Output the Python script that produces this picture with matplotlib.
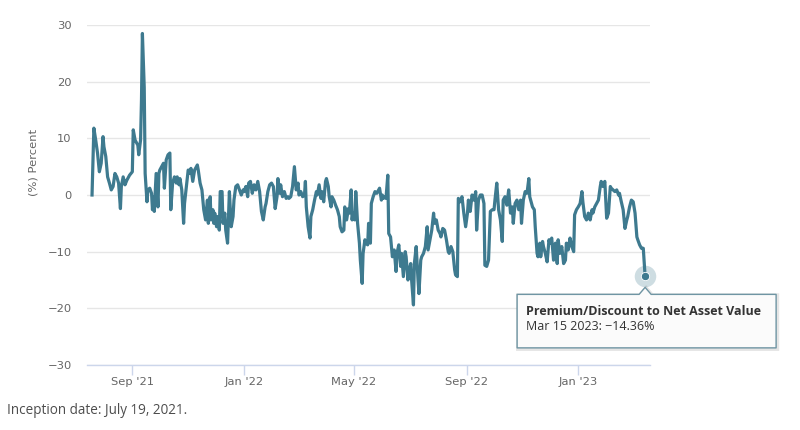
import matplotlib
matplotlib.use("Agg")
import matplotlib.pyplot as plt
import matplotlib.dates as mdates
import pandas as pd
from matplotlib.patches import Polygon
from matplotlib.transforms import IdentityTransform

# premium / discount to NAV (%)
dates = [
    "2021-07-19", "2021-07-21", "2021-07-23", "2021-07-25", "2021-07-27", "2021-07-29", "2021-07-31",
    "2021-08-01", "2021-08-03", "2021-08-05", "2021-08-07", "2021-08-09", "2021-08-11", "2021-08-13",
    "2021-08-15", "2021-08-17", "2021-08-19", "2021-08-20", "2021-08-22", "2021-08-24", "2021-08-26",
    "2021-08-29", "2021-09-01", "2021-09-02", "2021-09-04", "2021-09-07", "2021-09-08", "2021-09-10",
    "2021-09-11", "2021-09-12", "2021-09-14", "2021-09-15", "2021-09-17", "2021-09-18", "2021-09-20",
    "2021-09-22", "2021-09-23", "2021-09-24", "2021-09-25", "2021-09-27", "2021-09-29", "2021-09-30",
    "2021-10-01", "2021-10-03", "2021-10-05", "2021-10-06", "2021-10-08", "2021-10-10", "2021-10-12",
    "2021-10-13", "2021-10-15", "2021-10-17", "2021-10-19", "2021-10-20", "2021-10-22",
    "2021-10-23", "2021-10-25", "2021-10-27", "2021-10-28", "2021-10-30", "2021-11-01", "2021-11-03",
    "2021-11-04", "2021-11-06", "2021-11-08", "2021-11-11", "2021-11-12", "2021-11-14", "2021-11-16",
    "2021-11-18", "2021-11-20", "2021-11-22", "2021-11-23", "2021-11-25", "2021-11-26", "2021-11-28",
    "2021-11-29", "2021-11-30", "2021-12-02", "2021-12-03", "2021-12-05", "2021-12-06", "2021-12-08",
    "2021-12-09", "2021-12-11", "2021-12-12", "2021-12-14", "2021-12-16", "2021-12-18", "2021-12-20",
    "2021-12-21", "2021-12-23", "2021-12-25", "2021-12-27", "2021-12-29", "2021-12-31",
    "2022-01-01", "2022-01-03", "2022-01-05", "2022-01-06", "2022-01-08", "2022-01-10", "2022-01-12",
    "2022-01-14", "2022-01-16", "2022-01-18", "2022-01-20", "2022-01-22", "2022-01-24", "2022-01-25",
    "2022-01-27", "2022-01-29", "2022-01-31", "2022-02-02",
    "2022-02-04", "2022-02-06", "2022-02-07", "2022-02-09", "2022-02-10", "2022-02-12", "2022-02-14",
    "2022-02-16", "2022-02-18", "2022-02-19", "2022-02-21", "2022-02-23", "2022-02-25", "2022-02-27",
    "2022-03-01", "2022-03-02", "2022-03-04", "2022-03-06", "2022-03-08", "2022-03-09", "2022-03-10",
    "2022-03-12", "2022-03-14", "2022-03-15", "2022-03-17", "2022-03-19", "2022-03-21", "2022-03-22",
    "2022-03-24", "2022-03-26", "2022-03-27", "2022-03-29", "2022-03-31", "2022-04-01", "2022-04-03",
    "2022-04-04", "2022-04-06", "2022-04-07", "2022-04-09", "2022-04-11", "2022-04-13", "2022-04-15",
    "2022-04-16", "2022-04-18", "2022-04-20", "2022-04-21", "2022-04-23", "2022-04-25", "2022-04-26",
    "2022-04-28", "2022-04-29", "2022-04-30", "2022-05-02", "2022-05-03", "2022-05-05", "2022-05-07",
    "2022-05-08", "2022-05-10", "2022-05-11", "2022-05-13", "2022-05-14",
    "2022-05-16", "2022-05-17", "2022-05-19", "2022-05-20", "2022-05-22", "2022-05-24", "2022-05-26",
    "2022-05-27", "2022-05-29", "2022-05-31", "2022-06-01", "2022-06-02", "2022-06-04", "2022-06-05",
    "2022-06-07", "2022-06-08", "2022-06-10", "2022-06-12", "2022-06-14", "2022-06-16", "2022-06-17",
    "2022-06-19", "2022-06-21", "2022-06-22", "2022-06-24", "2022-06-26", "2022-06-27", "2022-06-29",
    "2022-06-30", "2022-07-02", "2022-07-03", "2022-07-05", "2022-07-06", "2022-07-08", "2022-07-10",
    "2022-07-11", "2022-07-13", "2022-07-14", "2022-07-16", "2022-07-18", "2022-07-20", "2022-07-21",
    "2022-07-23", "2022-07-25", "2022-07-27", "2022-07-28", "2022-07-30", "2022-08-01", "2022-08-03",
    "2022-08-04", "2022-08-06", "2022-08-08", "2022-08-10", "2022-08-12", "2022-08-13", "2022-08-15",
    "2022-08-17", "2022-08-19", "2022-08-20", "2022-08-22", "2022-08-23",
    "2022-08-25", "2022-08-27", "2022-08-29", "2022-08-31", "2022-09-02", "2022-09-03", "2022-09-05",
    "2022-09-07", "2022-09-09", "2022-09-11", "2022-09-12", "2022-09-14", "2022-09-16", "2022-09-18",
    "2022-09-20", "2022-09-21", "2022-09-23", "2022-09-25", "2022-09-27", "2022-09-29", "2022-10-01",
    "2022-10-02", "2022-10-04", "2022-10-06", "2022-10-08", "2022-10-10", "2022-10-11", "2022-10-13",
    "2022-10-15", "2022-10-17", "2022-10-19", "2022-10-21", "2022-10-22", "2022-10-24", "2022-10-26",
    "2022-10-28", "2022-10-30", "2022-10-31", "2022-11-02", "2022-11-04", "2022-11-06", "2022-11-08",
    "2022-11-09", "2022-11-11", "2022-11-12", "2022-11-14", "2022-11-15", "2022-11-17", "2022-11-18",
    "2022-11-20", "2022-11-21", "2022-11-23", "2022-11-24", "2022-11-26", "2022-11-28", "2022-11-30",
    "2022-12-01",
    "2022-12-03", "2022-12-05", "2022-12-07", "2022-12-09", "2022-12-10", "2022-12-12", "2022-12-14",
    "2022-12-16", "2022-12-18", "2022-12-19", "2022-12-21", "2022-12-23", "2022-12-25", "2022-12-27",
    "2022-12-28", "2022-12-30", "2023-01-01", "2023-01-03", "2023-01-05", "2023-01-06", "2023-01-08",
    "2023-01-10", "2023-01-12", "2023-01-14", "2023-01-16", "2023-01-17", "2023-01-19", "2023-01-21",
    "2023-01-23", "2023-01-25", "2023-01-26", "2023-01-28", "2023-01-30", "2023-02-01", "2023-02-03",
    "2023-02-05", "2023-02-06", "2023-02-08", "2023-02-10", "2023-02-12", "2023-02-14", "2023-02-15",
    "2023-02-17", "2023-02-19", "2023-02-21", "2023-02-23", "2023-02-24", "2023-02-26", "2023-02-28",
    "2023-03-02", "2023-03-04", "2023-03-06", "2023-03-07", "2023-03-09", "2023-03-11", "2023-03-13",
    "2023-03-15",
]
values = [
    0.0, 11.8, 9.7, 7.4, 4.1, 5.6, 10.3,
    8.5, 6.8, 3.2, 2.1, 0.9, 1.5, 3.8,
    3.2, 2.1, -2.4, 1.5, 3.2, 1.8, 2.6,
    3.5, 4.1, 11.5, 9.7, 8.8, 7.1, 9.7,
    16.8, 28.5, 19.0, 3.8, -1.2, 0.9, 1.2,
    0.3, -2.6, -0.3, -2.9, 3.8, -2.1, 3.8,
    4.4, 5.0, 5.6, 1.2, 6.2, 7.1, 7.4,
    -2.6, 2.1, 3.2, 2.1, 3.2, 1.8,
    2.9, 0.9, -5.0, -1.5, 1.5, 4.4, 3.8,
    4.7, 2.4, 4.4, 5.3, 4.4, 2.1, 0.9,
    -2.6, -4.4, -0.9, -5.0, -0.3, -4.4, -2.6,
    -5.0, -3.2, -5.6, -3.8, -6.2, 0.6, 0.6,
    -5.0, -3.2, -6.2, -8.5, 0.6, -5.6, -3.8,
    -0.9, 1.5, 1.8, 0.9, 0.0, 0.9,
    0.6, 1.5, -0.3, 2.1, 2.4, 0.3, 1.8,
    0.9, 2.4, 0.6, -2.9, -4.4, -2.1, -1.5,
    0.6, 1.8, 2.1, 1.5,
    -2.4, -0.3, 2.9, 0.3, 1.8, -0.3, 0.6,
    -0.6, -0.3, -0.6, -0.3, 1.5, 5.0, 0.9,
    2.1, 0.0, 0.6, -0.3, 0.0, 2.4, -2.1,
    -5.6, -7.6, -3.8, -2.6, -0.9, 0.6, 0.0,
    1.8, -0.6, 0.6, -1.2, 2.4, 2.9, 1.5,
    -0.3, -2.1, -0.3, -0.9, -1.8, -2.6, -3.8,
    -5.6, -6.5, -6.2, -2.1, -4.4, -2.4, -3.2,
    0.9, -4.4, -3.2, -4.4, 0.6, -5.0, -8.5,
    -11.5, -15.6, -10.3, -7.9, -8.5,
    -8.8, -5.0, -8.5, -1.5, -0.3, 0.6, 0.3,
    0.6, 1.2, -0.9, 0.0, -0.6, -0.3, -0.6,
    3.5, -6.8, -7.4, -10.9, -9.7, -13.5, -10.3,
    -8.8, -12.6, -10.3, -14.4, -10.0, -10.9, -15.0,
    -13.5, -12.1, -15.0, -19.4, -12.1, -9.1, -15.0,
    -17.4, -11.5, -10.9, -10.3, -9.1, -5.6, -9.7,
    -7.9, -6.2, -3.2, -5.0, -4.4, -6.2, -6.8,
    -7.4, -5.9, -6.2, -7.9, -10.0, -10.3, -9.1,
    -10.0, -13.2, -14.1, -14.4, -0.6,
    -1.2, -0.3, -3.2, -5.6, -3.2, -0.9, -2.9,
    0.0, -0.9, 0.6, -6.2, -0.9, 0.0, 0.0,
    -1.5, -12.4, -12.6, -11.5, -2.9, -2.6, -2.6,
    -0.9, 2.1, -2.6, -4.4, -8.2, -0.9, -0.3,
    -1.8, 0.9, -3.2, -2.1, -5.0, -1.5, -0.9,
    -2.6, -0.9, -5.0, -0.9, 0.6, 0.3, 2.9,
    -0.3, -1.5, -2.1, -2.6, -5.6, -10.3, -10.9,
    -8.5, -10.9, -8.2, -9.1, -10.3, -11.8, -7.9,
    -8.5,
    -7.6, -11.5, -8.5, -12.1, -7.9, -10.3, -9.1,
    -12.1, -11.5, -8.5, -9.7, -7.6, -9.1, -10.0,
    -3.5, -2.6, -2.1, -1.5, 0.6, -1.2, -3.8,
    -4.4, -3.2, -4.4, -2.6, -3.2, -2.1, -1.5,
    -0.9, 1.5, 2.4, 1.5, 2.4, -4.1, -3.2,
    1.5, 1.2, 0.9, 0.6, 0.9, 0.0, 0.3,
    -1.2, -2.6, -5.9, -4.4, -3.8, -2.1, -0.9,
    -1.2, -3.2, -7.4, -7.9, -8.8, -9.4, -9.4,
    -14.36,
]

tick_dates = ["2021-09-01", "2022-01-01", "2022-05-01", "2022-09-01", "2023-01-01"]
y_ticks = [-30, -20, -10, 0, 10, 20, 30]
series_name = "Premium/Discount to Net Asset Value"
y_title = "(%) Percent"
inception_note = "Inception date: July 19, 2021."

line_color = "#3e7a8f"
label_color = "#666666"

x = pd.to_datetime(dates)

fig = plt.figure(figsize=(8, 4.3), dpi=100)
ax = fig.add_axes([87 / 800, 65 / 430, 563 / 800, 340 / 430])

ax.plot(x, values, color=line_color, lw=2.3, solid_joinstyle="round", zorder=3)

ax.set_ylim(-30, 30)
ax.set_xlim(pd.Timestamp("2021-07-13 12:00"), pd.Timestamp("2023-03-20 08:00"))
ax.set_yticks(y_ticks)
ax.set_xticks(pd.to_datetime(tick_dates))
ax.xaxis.set_major_formatter(mdates.DateFormatter("%b '%y"))

ax.yaxis.grid(True, color="#e6e6e6", lw=1)
ax.set_axisbelow(True)
for s in ["top", "right", "left"]:
    ax.spines[s].set_visible(False)
ax.spines["bottom"].set_color("#ccd6eb")
ax.spines["bottom"].set_linewidth(1)
ax.spines["bottom"].set_zorder(2)

ax.tick_params(axis="y", length=0, pad=11, labelcolor=label_color, labelsize=8.25)
ax.tick_params(axis="x", length=7.2, width=1, color="#ccd6eb", pad=1.5,
               labelcolor=label_color, labelsize=8.25)

fig.text(33 / 800, 1 - 162 / 430, y_title, rotation=90, ha="center", va="center",
         color=label_color, fontsize=8.25)
fig.text(7 / 800, 1 - 410 / 430, inception_note, ha="left", va="center",
         color="#4d4d4d", fontsize=9.75, family="Open Sans")

# hovered last point with halo
last_x, last_y = x[-1], values[-1]
ax.plot([last_x], [last_y], "o", ms=15.5, color=line_color, alpha=0.25, mec="none",
        clip_on=False, zorder=4)
ax.plot([last_x], [last_y], "o", ms=6, color=line_color, mec="white", mew=0.6,
        clip_on=False, zorder=5)

# tooltip box (drawn in pixels, relative to the hovered point)
fig.canvas.draw()
px, py = ax.transData.transform((mdates.date2num(last_x), last_y))
left, right = px - 128, px + 131
top, bottom = py - 18, py - 71.5
tip = py - 11
outline = [(left, top), (px - 6, top), (px, tip), (px + 6, top), (right, top),
           (right, bottom), (left, bottom)]
shadow = Polygon([(a + 1, b - 1) for a, b in outline], closed=True, transform=IdentityTransform(),
                 facecolor="none", edgecolor="black", alpha=0.1, lw=3, zorder=6)
box = Polygon(outline, closed=True, transform=IdentityTransform(), facecolor="#fbfbfb",
              edgecolor="#6f95a3", lw=1, joinstyle="round", zorder=7)
fig.add_artist(shadow)
fig.add_artist(box)

label_value = f"{last_x.strftime('%b %d %Y')}: {last_y:.2f}%".replace("-", "\u2212")
fig.text(left + 9, py - 35, series_name, transform=IdentityTransform(), ha="left", va="center",
         fontsize=9, fontweight="bold", color="#333333", family="Open Sans", zorder=8)
fig.text(left + 9, py - 50.5, label_value, transform=IdentityTransform(), ha="left", va="center",
         fontsize=9, color="#333333", family="Open Sans", zorder=8)

fig.savefig("out.png", dpi=100)
